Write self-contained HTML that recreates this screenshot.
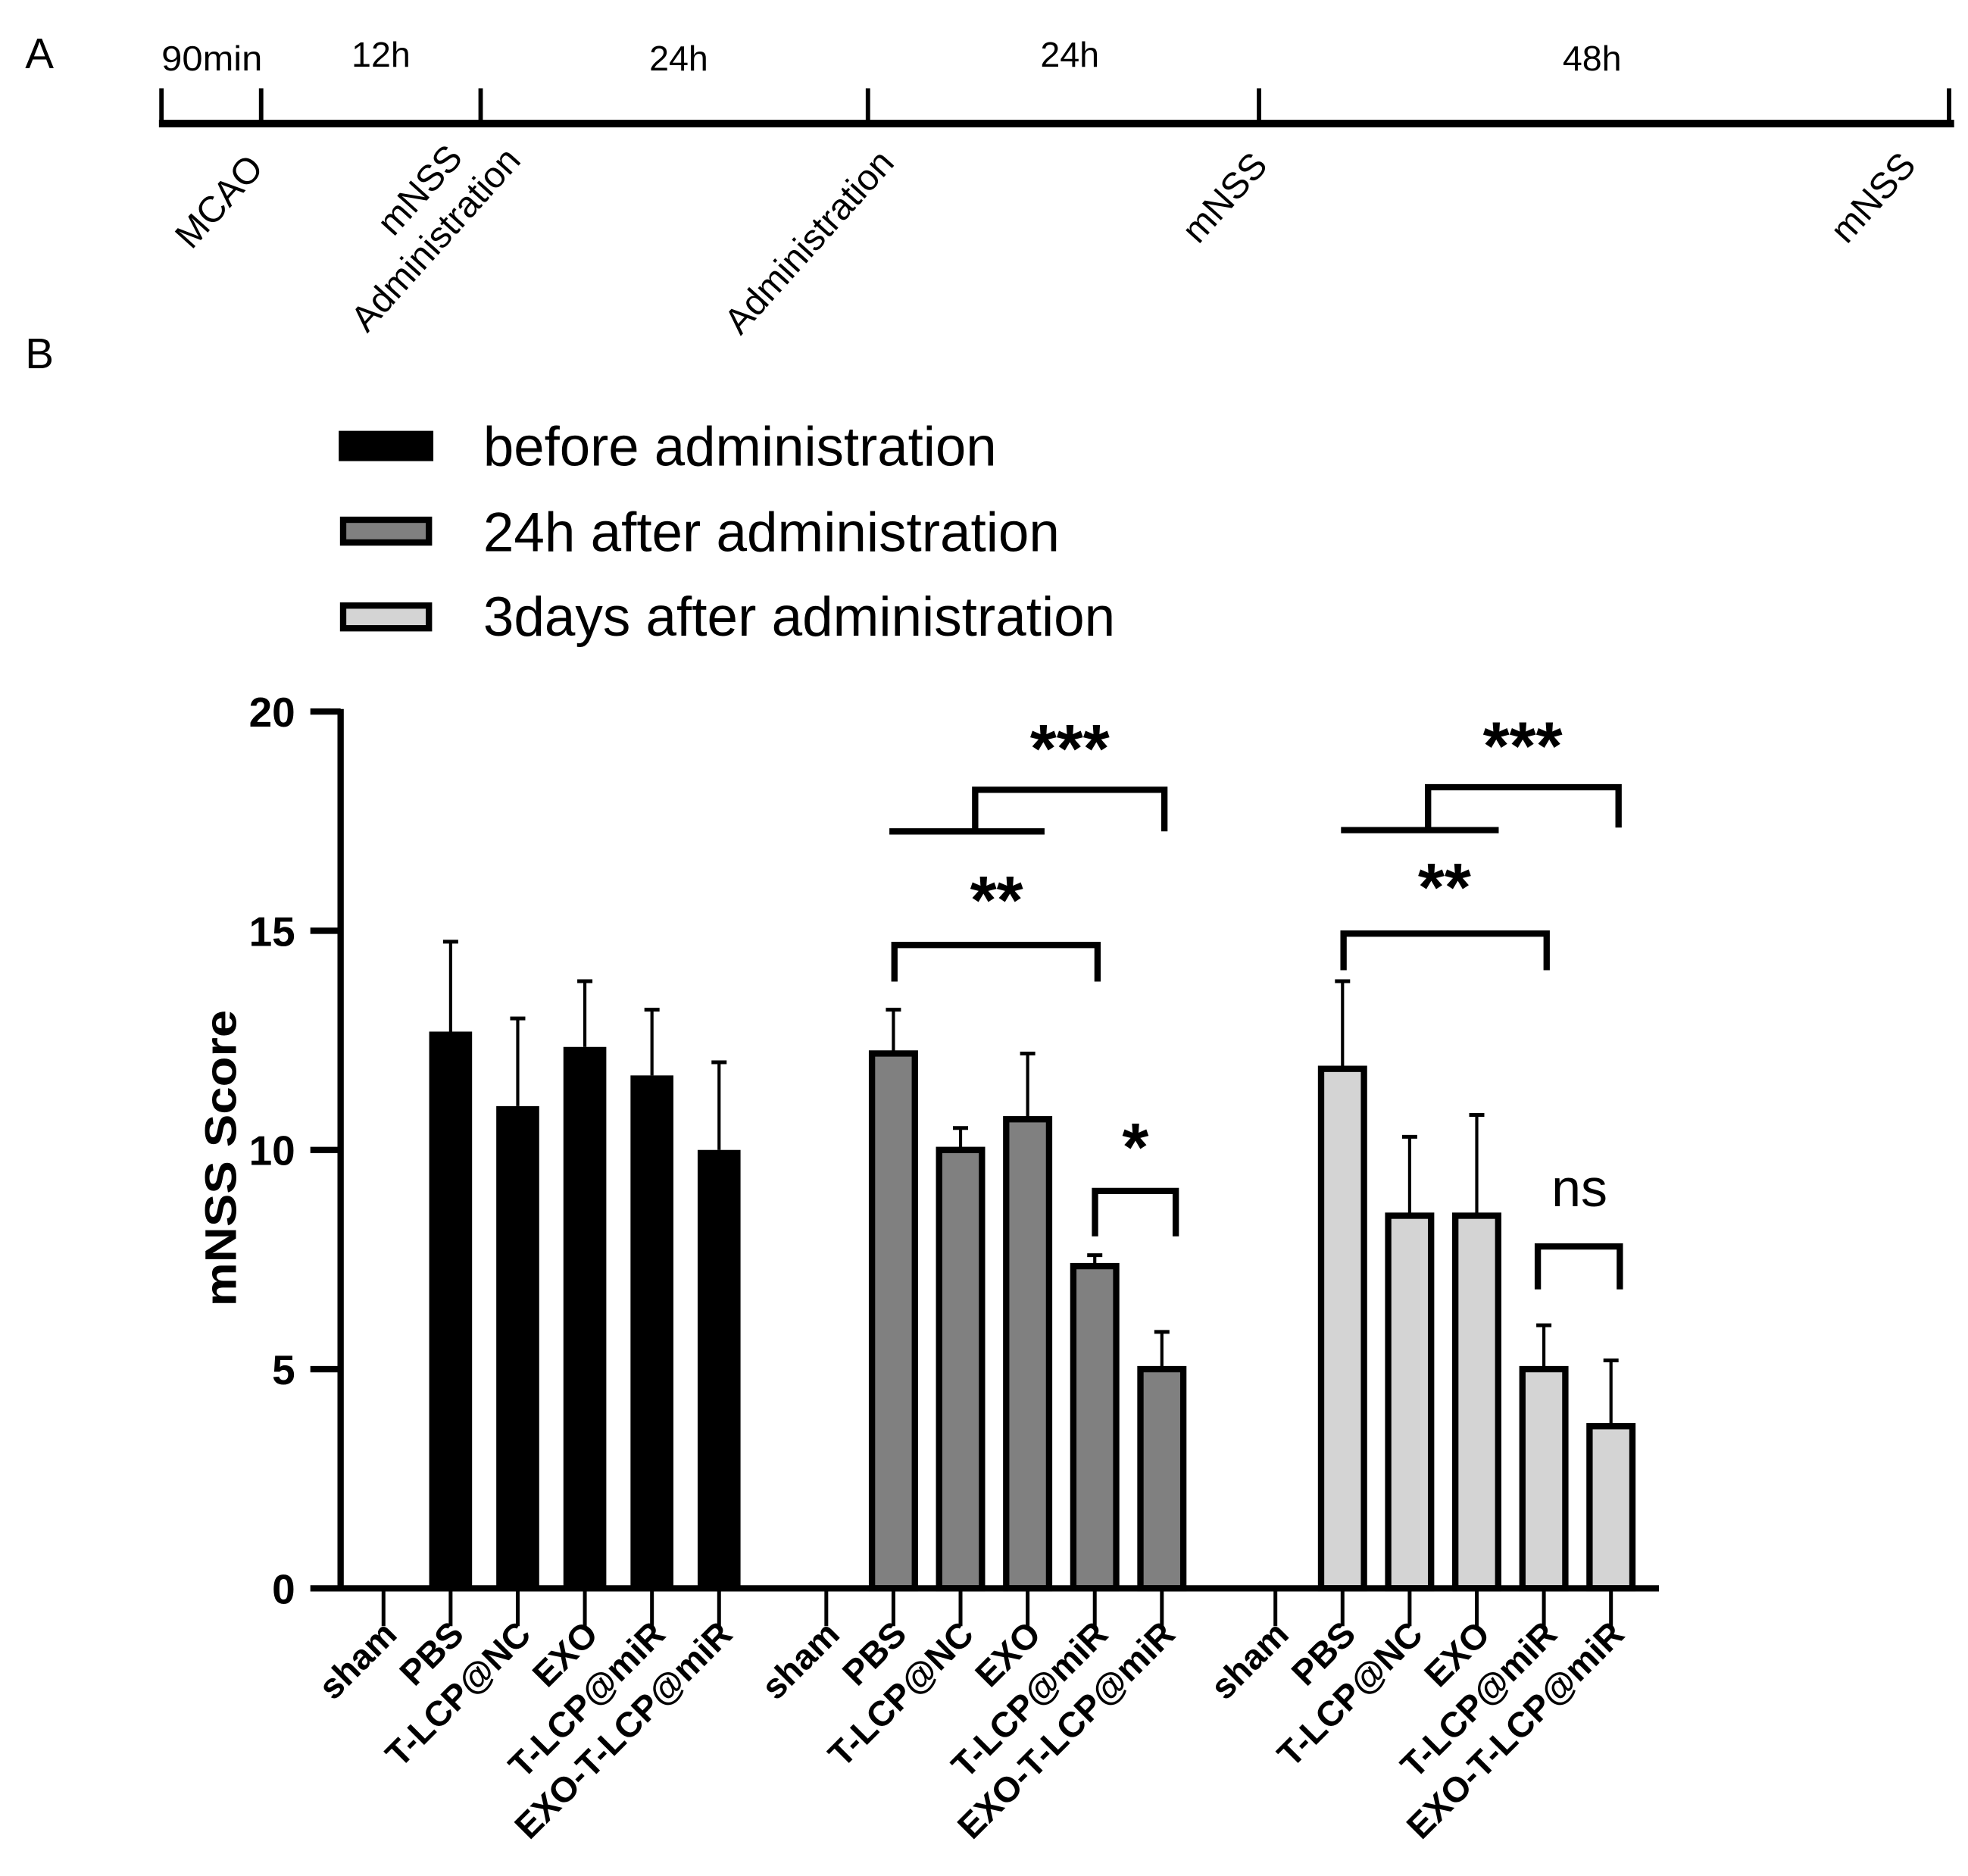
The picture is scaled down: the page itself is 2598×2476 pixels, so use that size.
<!DOCTYPE html>
<html><head><meta charset="utf-8"><style>
html,body{margin:0;padding:0;background:#fff;}
svg{display:block;font-family:"Liberation Sans",sans-serif;}
</style></head><body>
<svg id="chart" width="2598" height="2476" viewBox="0 0 1560 1487" preserveAspectRatio="none" xmlns="http://www.w3.org/2000/svg">
<g>
<text x="20" y="54" font-size="34">A</text>
<line x1="126" y1="98" x2="1549" y2="98" stroke="#000" stroke-width="6"/>
<g stroke="#000" stroke-width="3.5">
<line x1="128" y1="70" x2="128" y2="98"/><line x1="207" y1="70" x2="207" y2="98"/><line x1="381" y1="70" x2="381" y2="98"/><line x1="688" y1="70" x2="688" y2="98"/><line x1="998" y1="70" x2="998" y2="98"/><line x1="1545" y1="70" x2="1545" y2="98"/>
</g>
<g font-size="28" text-anchor="middle">
<text x="168" y="56" textLength="80" lengthAdjust="spacingAndGlyphs">90min</text><text x="302" y="53">12h</text><text x="538" y="56">24h</text><text x="848" y="53">24h</text><text x="1262" y="56">48h</text>
</g>
<g font-size="29" text-anchor="end">
<text transform="translate(210,134) rotate(-48)">MCAO</text>
<text transform="translate(368,126) rotate(-48)">mNSS</text>
<text transform="translate(414,128) rotate(-48)">Administration</text>
<text transform="translate(710,130) rotate(-48)">Administration</text>
<text transform="translate(1006,132) rotate(-48)">mNSS</text>
<text transform="translate(1520,132) rotate(-48)">mNSS</text>
</g>
</g>
<text x="20" y="292" font-size="34">B</text>
<g font-size="44">
<g><rect x="270" y="343" width="72" height="21" fill="#000" stroke="#000" stroke-width="3"/><text x="383" y="369" textLength="407" lengthAdjust="spacingAndGlyphs">before administration</text></g>
<g><rect x="272" y="412" width="68" height="18" fill="#808080" stroke="#000" stroke-width="5"/><text x="383" y="437" textLength="457" lengthAdjust="spacingAndGlyphs">24h after administration</text></g>
<g><rect x="272" y="480" width="68" height="18" fill="#d4d4d4" stroke="#000" stroke-width="5"/><text x="383" y="504" textLength="501" lengthAdjust="spacingAndGlyphs">3days after administration</text></g>
</g>
<g id="plot"></g>
</svg>
<script>
const categories = ["sham","PBS","T-LCP@NC","EXO","T-LCP@miR","EXO-T-LCP@miR"];
const seriesNames = ["before administration","24h after administration","3days after administration"];
const beforeVals = [0, 12.7, 11.0, 12.35, 11.7, 10.0];
const beforeErr = [0, 2.05, 2.0, 1.5, 1.5, 2.0];
const h24Vals = [0, 12.2, 10.0, 10.7, 7.35, 5.0];
const h24Err = [0, 1.0, 0.5, 1.5, 0.25, 0.85];
const d3Vals = [0, 11.85, 8.5, 8.5, 5.0, 3.7];
const d3Err = [0, 2.0, 1.8, 2.3, 1.0, 1.5];
const yTicks = [0, 5, 10, 15, 20];
const NS = "http://www.w3.org/2000/svg";
const plot = document.getElementById('plot');
const y0 = 1259, yTop = 564, yMax = 20;
function yScale(v){ return y0 - (v / yMax) * (y0 - yTop); }
const groupStart = [304, 655, 1011];
const step = 53.2;
function xScale(g, i){ return groupStart[g] + i * step; }
function mk(tag, attrs){ const e = document.createElementNS(NS, tag); for (const k in attrs) e.setAttribute(k, attrs[k]); plot.appendChild(e); return e; }
const fills = ["#000", "#808080", "#d4d4d4"];
const vals = [beforeVals, h24Vals, d3Vals];
const errs = [beforeErr, h24Err, d3Err];
const bw = 34;
for (let g = 0; g < 3; g++) {
  for (let i = 0; i < categories.length; i++) {
    const x = xScale(g, i), v = vals[g][i];
    if (v > 0) {
      const e = errs[g][i];
      const el = mk('line', {x1:x, x2:x, y1:yScale(v), y2:yScale(v+e), stroke:'#000','stroke-width':2.5});
      
      
      const cap = mk('line', {x1:x-6, x2:x+6, y1:yScale(v+e), y2:yScale(v+e), stroke:'#000','stroke-width':3});
      
      
      const r = mk('rect', {x:x-bw/2, y:yScale(v), width:bw, height:y0-yScale(v), fill:fills[g], stroke:'#000','stroke-width':g===0?0:5});
      
      
    }
    const t = mk('line', {x1:x, x2:x, y1:y0, y2:y0+30, stroke:'#000','stroke-width':3});
    
    
    const lb = mk('text', {transform:'translate('+(x+12)+','+(y0+38)+') rotate(-45)', 'text-anchor':'end', 'font-size':28, 'font-weight':'bold'});
    lb.textContent = categories[i];
    
    
  }
}
const ax = mk('line', {x1:268, x2:1315, y1:y0, y2:y0, stroke:'#000','stroke-width':5});


const ay = mk('line', {x1:270, x2:270, y1:yTop-2, y2:y0+2, stroke:'#000','stroke-width':5});


yTicks.forEach(v => {
  const t = mk('line', {x1:246, x2:270, y1:yScale(v), y2:yScale(v), stroke:'#000','stroke-width':5});
  
  
  const l = mk('text', {x:234, y:yScale(v)+12, 'text-anchor':'end', 'font-size':33, 'font-weight':'bold'});
  l.textContent = v;
  
  
});
const yt = mk('text', {transform:'translate(187,918) rotate(-90)', 'text-anchor':'middle', 'font-size':35, 'font-weight':'bold', textLength:235, lengthAdjust:'spacingAndGlyphs'});
yt.textContent = 'mNSS Score';


function bracket(x1, x2, y, yl, label, lx, ly, fs){
  const p = mk('path', {d:'M'+x1+','+yl+' L'+x1+','+y+' L'+x2+','+y+' L'+x2+','+yl, fill:'none', stroke:'#000','stroke-width':5});
  
  
  const t = mk('text', {x:lx, y:ly, 'text-anchor':'middle', 'font-size':fs, 'font-weight': label==='ns'?'normal':'bold'});
  t.textContent = label;
  
  
}
function hline(x1, x2, y){
  const l = mk('line', {x1:x1, x2:x2, y1:y, y2:y, stroke:'#000','stroke-width':5});
  
  
}
hline(705, 828, 659); bracket(773, 923, 626, 659, '***', 848, 612, 54);
bracket(709, 870, 749, 778, '**', 790, 732, 54);
bracket(868, 932, 944, 980, '*', 900, 928, 54);
hline(1063, 1188, 658); bracket(1132, 1283, 624, 656, '***', 1207, 610, 54);
bracket(1065, 1226, 740, 769, '**', 1145, 722, 54);
bracket(1219, 1284, 988, 1022, 'ns', 1252, 956, 42);
</script>
</body></html>
